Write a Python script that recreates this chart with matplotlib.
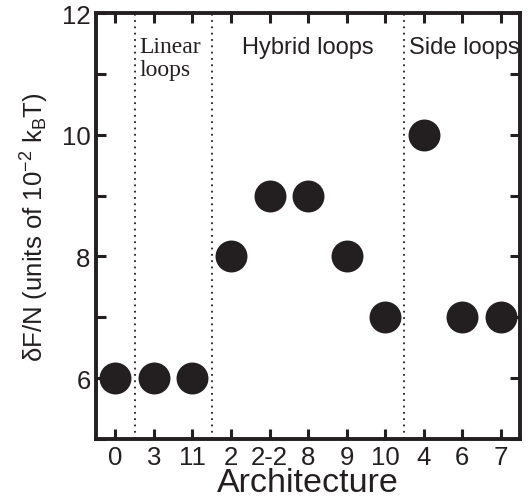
import matplotlib
matplotlib.use("Agg")
import matplotlib.pyplot as plt
from matplotlib.ticker import MultipleLocator

# Architectures and free-energy differences per monomer
architectures = ["0", "3", "11", "2", "2-2", "8", "9", "10", "4", "6", "7"]
delta_f = [6, 6, 6, 8, 9, 9, 8, 7, 10, 7, 7]

# Group boundaries (between category positions) and group labels
boundaries = [0.5, 2.5, 7.5]
group_labels = ["Linear\nloops", "Hybrid loops", "Side loops"]

plt.rcParams["font.family"] = ["Liberation Sans", "DejaVu Sans"]
plt.rcParams["mathtext.fontset"] = "custom"
plt.rcParams["mathtext.rm"] = "Liberation Sans"
plt.rcParams["mathtext.it"] = "Liberation Sans"

fig = plt.figure(figsize=(5.28, 5.02), dpi=100)
ax = fig.add_axes([0.182, 0.1235, 0.803, 0.8485])

ink = "#231f20"
x = list(range(len(architectures)))
ax.plot(x, delta_f, "o", color=ink, markersize=23, markeredgewidth=0)

for b in boundaries:
    ax.axvline(b, color=ink, linestyle=(0, (1, 2.5)), linewidth=1.3)

ax.text(0.63, 11.62, group_labels[0], family=["Liberation Serif"], fontsize=17,
        color=ink, va="top", ha="left", linespacing=1.1)
ax.text(5.0, 11.62, group_labels[1], fontsize=17, color=ink, va="top", ha="center")
ax.text(9.05, 11.62, group_labels[2], fontsize=17, color=ink, va="top", ha="center")

ax.set_xlim(-0.5, 10.5)
ax.set_ylim(5, 12)
ax.set_xticks(x)
ax.set_xticklabels(architectures)
ax.set_yticks([6, 8, 10, 12])
ax.yaxis.set_minor_locator(MultipleLocator(1))

for s in ax.spines.values():
    s.set_linewidth(2.8)
    s.set_color(ink)

ax.tick_params(which="both", direction="in", top=True, right=True,
               width=2.2, color=ink, labelsize=18.5, labelcolor=ink)
ax.tick_params(axis="x", which="major", length=7.5, pad=4)
ax.tick_params(axis="y", which="major", length=7.5, pad=4)
ax.tick_params(axis="y", which="minor", length=7.5)
ax.tick_params(axis="x", which="minor", bottom=False, top=False)

ax.set_xlabel("Architecture", fontsize=24.5, color=ink, labelpad=-1)
ax.set_ylabel("δF/N (units of 10$^{-2}$ k$_\\mathrm{B}$T)", fontsize=18.5,
              color=ink, labelpad=8)

fig.savefig("out.png", dpi=100)
